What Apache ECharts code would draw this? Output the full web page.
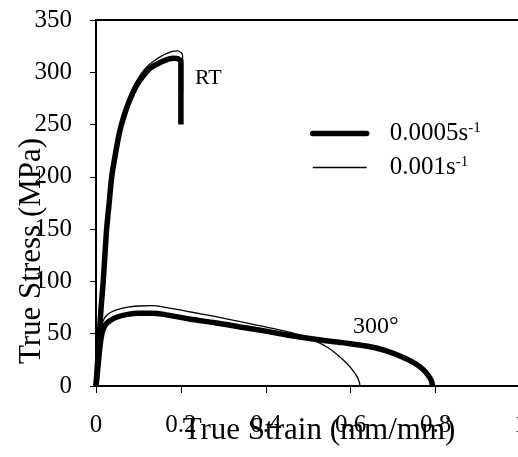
<!DOCTYPE html>
<html>
<head>
<meta charset="utf-8">
<script src="https://cdn.jsdelivr.net/npm/echarts@6/dist/echarts.min.js"></script>
<style>
html,body{margin:0;padding:0;background:#fff;}
#chart{width:518px;height:457px;}
</style>
</head>
<body>
<div id="chart"></div>
<script>
// Data (true strain mm/mm, true stress MPa)
const rtSlowStrain = [0, 0.004, 0.008, 0.012, 0.017, 0.021, 0.025, 0.031, 0.037, 0.045, 0.053, 0.06, 0.07, 0.08, 0.095, 0.11, 0.125, 0.14, 0.155, 0.17, 0.183, 0.193, 0.2, 0.2];
const rtSlowStress = [0, 25, 50, 75, 100, 125, 150, 175, 200, 220, 238, 250, 263, 274, 287, 296, 303, 307, 310, 312.5, 313.5, 313, 310, 250];
const rtFastStrain = [0, 0.004, 0.007, 0.011, 0.015, 0.019, 0.023, 0.028, 0.034, 0.042, 0.05, 0.056, 0.066, 0.077, 0.092, 0.107, 0.122, 0.137, 0.152, 0.167, 0.18, 0.192, 0.2, 0.204, 0.204];
const rtFastStress = [0, 27, 50, 75, 100, 125, 150, 175, 200, 220, 238, 250, 264, 276, 289, 299, 306, 311, 315, 318, 320, 320.5, 319, 316, 280];
const hotSlowStrain = [0, 0.005, 0.01, 0.015, 0.02, 0.025, 0.035, 0.05, 0.075, 0.1, 0.13, 0.16, 0.22, 0.28, 0.34, 0.4, 0.45, 0.52, 0.58, 0.64, 0.68, 0.72, 0.75, 0.77, 0.783, 0.79, 0.793];
const hotSlowStress = [0, 20, 40, 52, 57, 60, 63, 66, 68.5, 69.5, 69.5, 68.5, 64, 60.5, 56.5, 52.5, 48.8, 44.5, 41.5, 38, 34, 28, 22, 16, 10, 5, 0];
const hotFastStrain = [0, 0.005, 0.01, 0.015, 0.02, 0.025, 0.035, 0.05, 0.075, 0.1, 0.13, 0.16, 0.22, 0.28, 0.34, 0.4, 0.45, 0.49, 0.52, 0.545, 0.57, 0.59, 0.605, 0.615, 0.62, 0.622];
const hotFastStress = [0, 25, 48, 60, 65, 67.5, 70.5, 73, 75.5, 76.5, 76.8, 75.5, 71, 66.5, 61.5, 56.5, 52, 47.5, 42.5, 37, 29.5, 22, 15, 9, 4, 0];
const xTicks = [0, 0.2, 0.4, 0.6, 0.8, 1];
const yTicks = [0, 50, 100, 150, 200, 250, 300, 350];
const legendNames = ['0.0005s-1', '0.001s-1'];

const pair = (xs, ys) => xs.map((x, i) => [x, ys[i]]);
const FONT = 'Liberation Serif';
const THICK = 5.5, THIN = 1.3;

const chart = echarts.init(document.getElementById('chart'), null, {renderer: 'canvas'});
const thick = {color: '#000', width: THICK};
const thin = {color: '#000', width: THIN};
chart.setOption({
  animation: false,
  backgroundColor: '#fff',
  grid: {left: 96, top: 20, width: 424.5, height: 366, show: true, borderColor: '#000', borderWidth: 2, containLabel: false, outerBoundsMode: 'none'},
  xAxis: {
    type: 'value', min: xTicks[0], max: xTicks[xTicks.length - 1], interval: 0.2,
    axisLine: {lineStyle: {color: '#000', width: 2}},
    axisTick: {show: true, inside: false, length: 7, lineStyle: {color: '#000', width: 1}},
    splitLine: {show: false},
    axisLabel: {color: '#000', fontFamily: FONT, fontSize: 25, margin: 27, formatter: v => String(+v.toFixed(1))}
  },
  yAxis: {
    type: 'value', min: yTicks[0], max: yTicks[yTicks.length - 1], interval: 50,
    axisLine: {show: true, lineStyle: {color: '#000', width: 2}},
    axisTick: {show: true, inside: false, length: 6, lineStyle: {color: '#000', width: 1}},
    splitLine: {show: false},
    axisLabel: {color: '#000', fontFamily: FONT, fontSize: 25, margin: 24}
  },
  legend: {
    orient: 'vertical', left: 305, top: 116, itemGap: 9, itemWidth: 54, itemHeight: 14,
    itemStyle: {opacity: 0},
    data: [
      {name: legendNames[0], lineStyle: {width: THICK, color: '#000', cap: 'round'}, itemStyle: {opacity: 0}},
      {name: legendNames[1], lineStyle: {width: THIN, color: '#000'}, itemStyle: {opacity: 0}}
    ],
    textStyle: {color: '#000', fontFamily: FONT, fontSize: 25, padding: [0, 0, 0, 18],
      rich: {a: {fontFamily: FONT, fontSize: 25, color: '#000'}, s: {fontFamily: FONT, fontSize: 15, color: '#000', verticalAlign: 'top', padding: [0, 0, 10, 0]}}},
    formatter: n => '{a|' + n.replace('s-1', 's') + '}{s|-1}'
  },
  series: [
    {name: legendNames[0], type: 'line', data: pair(rtSlowStrain, rtSlowStress), showSymbol: false, symbol: 'none', smooth: 0.25, lineStyle: thick, itemStyle: {color: '#000'}, z: 3},
    {name: legendNames[1], type: 'line', data: pair(rtFastStrain, rtFastStress), showSymbol: false, symbol: 'none', smooth: 0.25, lineStyle: thin, itemStyle: {color: '#000'}, z: 2},
    {name: legendNames[0], type: 'line', data: pair(hotSlowStrain, hotSlowStress), showSymbol: false, symbol: 'none', smooth: 0.3, lineStyle: thick, itemStyle: {color: '#000'}, z: 3},
    {name: legendNames[1], type: 'line', data: pair(hotFastStrain, hotFastStress), showSymbol: false, symbol: 'none', smooth: 0.3, lineStyle: thin, itemStyle: {color: '#000'}, z: 2}
  ],
  graphic: [
    {type: 'text', left: 195, top: 67, style: {text: 'RT', fontFamily: FONT, fontSize: 22, fill: '#000'}},
    {type: 'text', left: 353, top: 315, style: {text: '300°', fontFamily: FONT, fontSize: 24, fill: '#000'}},
    {type: 'text', x: 319, y: 431, style: {text: 'True Strain (mm/mm)', fontFamily: FONT, fontSize: 31, fill: '#000', align: 'center', verticalAlign: 'middle'}},
    {type: 'text', x: 32, y: 251, rotation: Math.PI / 2, style: {text: 'True Stress (MPa)', fontFamily: FONT, fontSize: 31, fill: '#000', align: 'center', verticalAlign: 'middle'}}
  ]
});
</script>
</body>
</html>
